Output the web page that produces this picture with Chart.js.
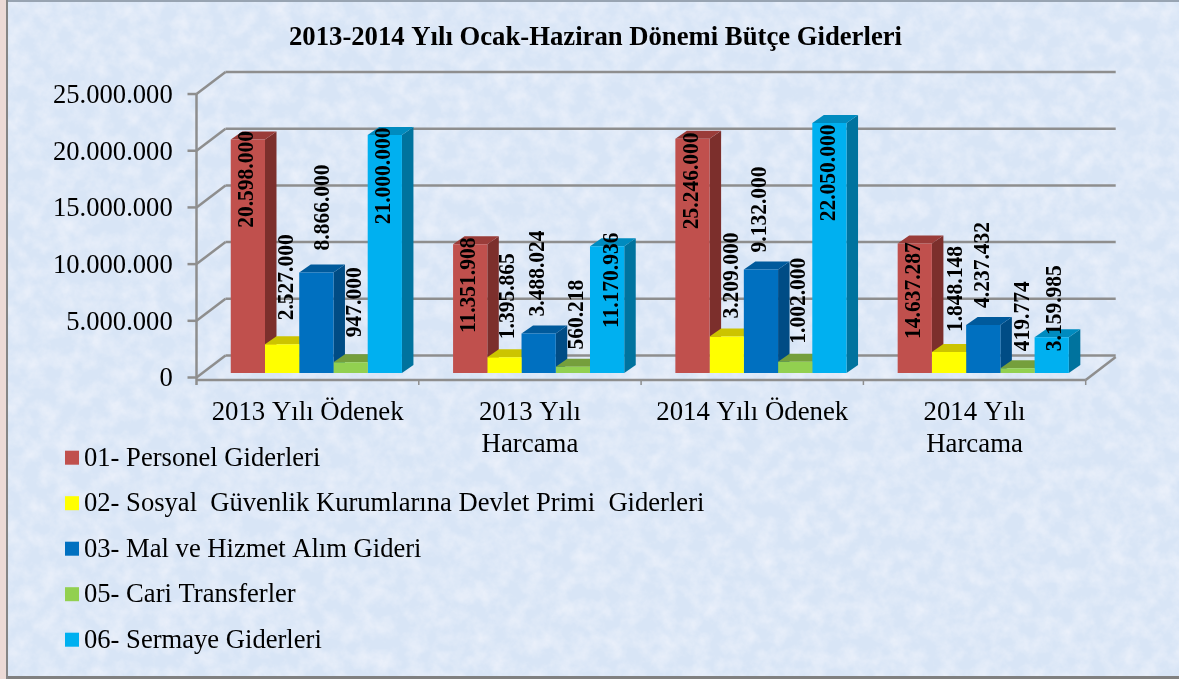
<!DOCTYPE html>
<html lang="tr">
<head>
<meta charset="utf-8">
<title>2013-2014 Yılı Ocak-Haziran Dönemi Bütçe Giderleri</title>
<style>
html,body{margin:0;padding:0;width:1179px;height:679px;overflow:hidden;background:#dce9f8;}
#bg{position:absolute;left:0;top:0;width:1179px;height:679px;box-sizing:border-box;
 border-top:2px solid #98a4b2;border-bottom:3px solid #808080;border-left:3px solid #808080;}
#tex{position:absolute;left:8px;top:2px;width:1171px;height:674px;background:#d8e5f6;
 background-image:url("data:image/svg+xml,%3Csvg xmlns='http://www.w3.org/2000/svg' width='1171' height='674'%3E%3Cfilter id='n' x='0' y='0' width='100%25' height='100%25'%3E%3CfeTurbulence type='fractalNoise' baseFrequency='0.06' numOctaves='5' seed='7'/%3E%3CfeColorMatrix values='0 0 0 0 0.92  0 0 0 0 0.93  0 0 0 0 0.98  1.1 0 0 0 -0.38'/%3E%3C/filter%3E%3Crect width='1171' height='674' filter='url(%23n)'/%3E%3C/svg%3E");}
#strip{position:absolute;left:0;top:0;width:6px;height:679px;background:#ecdad6;}
#line{position:absolute;left:6px;top:0;width:2px;height:679px;background:#858585;}
canvas{position:absolute;left:0;top:0;}
</style>
</head>
<body>
<div id="bg"></div><div id="tex"></div><div id="strip"></div><div id="line"></div>
<canvas id="c" width="1179" height="679"></canvas>
<script src="https://cdn.jsdelivr.net/npm/chart.js@4/dist/chart.umd.js"></script>
<script>
const categories = ['2013 Yılı Ödenek', ['2013 Yılı', 'Harcama'], '2014 Yılı Ödenek', ['2014 Yılı', 'Harcama']];
const titleText = '2013-2014 Yılı Ocak-Haziran Dönemi Bütçe Giderleri';

const seriesNames = [
  '01- Personel Giderleri',
  '02- Sosyal  Güvenlik Kurumlarına Devlet Primi  Giderleri',
  '03- Mal ve Hizmet Alım Gideri',
  '05- Cari Transferler',
  '06- Sermaye Giderleri'
];

// Bar heights (two red bars are drawn shorter than their printed labels)
const personel = [20598000, 11351908, 20650000, 11420000];
const sosyal   = [2527000, 1395865, 3209000, 1848148];
const mal      = [8866000, 3488024, 9132000, 4237432];
const cari     = [947000, 560218, 1002000, 419774];
const sermaye  = [21000000, 11170936, 22050000, 3159985];

// Printed data labels
const personelLabels = ['20.598.000', '11.351.908', '25.246.000', '14.637.287'];
const sosyalLabels   = ['2.527.000', '1.395.865', '3.209.000', '1.848.148'];
const malLabels      = ['8.866.000', '3.488.024', '9.132.000', '4.237.432'];
const cariLabels     = ['947.000', '560.218', '1.002.000', '419.774'];
const sermayeLabels  = ['21.000.000', '11.170.936', '22.050.000', '3.159.985'];

const seriesValues = [personel, sosyal, mal, cari, sermaye];
const seriesLabels = [personelLabels, sosyalLabels, malLabels, cariLabels, sermayeLabels];

// Styling: front, side, top face colours
const frontColors = ['#C0504D', '#FFFF00', '#0070C0', '#92D050', '#00B0F0'];
const sideColors  = ['#7C2F2C', '#B3AE00', '#004C85', '#64923A', '#00739E'];
const topColors   = ['#9A3C39', '#CCC400', '#005A9C', '#759F3C', '#008BBF'];

// Styling: label centre, relative to top-centre of its bar [dx, dy], per series then category
const labelNudge = [
  [[-1, 40], [-1, 41], [0, 42], [-1, 47]],
  [[5, -67], [4, -61], [5, -61], [7, -63]],
  [[7, -65], [-1, -60], [-1, -60], [0, -60]],
  [[4, -60], [4, -52], [4, -61], [6, -52]],
  [[-1, 41], [5, 34], [0, 50], [3, -29]]
];

const SERIF = '"Liberation Serif","Times New Roman",serif';
const GRID = '#8e8e8e';
const FRONT_DX = 8.7, FRONT_DY = 4.5;   // bar plane to front axis plane
const WALL_DX = 29, WALL_DY = 22;       // front axis plane to back wall
const BAR_DX = 11.5, BAR_DY = 8;        // bar depth

function poly(ctx, pts, fill) {
  ctx.beginPath();
  pts.forEach((p, i) => i ? ctx.lineTo(p[0], p[1]) : ctx.moveTo(p[0], p[1]));
  ctx.closePath();
  ctx.fillStyle = fill;
  ctx.fill();
}

const chart3d = {
  id: 'chart3d',
  afterLayout(chart) {
    // title is centred on the page area right of the left frame, not on the canvas
    chart.titleBlock.left = 12;
    chart.titleBlock.right = chart.width;
  },
  beforeDatasetsDraw(chart) {
    const ctx = chart.ctx, y = chart.scales.y, a = chart.chartArea;
    const fl = a.left - FRONT_DX, fr = a.right - FRONT_DX;
    ctx.save();
    ctx.strokeStyle = GRID;
    ctx.lineWidth = 2.5;
    const line = (x1, y1, x2, y2) => { ctx.beginPath(); ctx.moveTo(x1, y1); ctx.lineTo(x2, y2); ctx.stroke(); };
    y.ticks.forEach(t => {
      const py = y.getPixelForValue(t.value) + FRONT_DY;
      line(fl - 9, py, fl, py);
      line(fl, py, fl + WALL_DX, py - WALL_DY);
      line(fl + WALL_DX, py - WALL_DY, fr + WALL_DX + 1, py - WALL_DY);
    });
    const y0 = y.getPixelForValue(0) + FRONT_DY + 2.5;
    const yTop = y.getPixelForValue(y.max) + FRONT_DY;
    line(fl, yTop, fl, y0 + 5);
    line(fl, y0, fr, y0);
    line(fr, y0, fr + WALL_DX + 1, y0 - 23);
    const n = categories.length;
    for (let i = 1; i <= n; i++) {
      const tx = fl + (fr - fl) * i / n;
      ctx.lineWidth = 1.5;
      line(tx, y0, tx, y0 + 5);
    }
    seriesValues.forEach((_, s) => {
      chart.getDatasetMeta(s).data.forEach(b => {
        const l = b.x - b.width / 2, r = b.x + b.width / 2;
        poly(ctx, [[r, b.y], [r + BAR_DX, b.y - BAR_DY], [r + BAR_DX, b.base - BAR_DY], [r, b.base]], sideColors[s]);
        poly(ctx, [[l, b.y], [l + BAR_DX, b.y - BAR_DY], [r + BAR_DX, b.y - BAR_DY], [r, b.y]], topColors[s]);
      });
    });
    ctx.restore();
  },
  afterDatasetsDraw(chart) {
    const ctx = chart.ctx;
    ctx.save();
    ctx.fillStyle = '#000';
    ctx.font = 'bold 21.5px ' + SERIF;
    ctx.textAlign = 'center';
    ctx.textBaseline = 'middle';
    seriesLabels.forEach((labs, s) => {
      chart.getDatasetMeta(s).data.forEach((b, i) => {
        const n = labelNudge[s][i];
        ctx.save();
        ctx.translate(b.x + n[0], b.y + n[1]);
        ctx.rotate(-Math.PI / 2);
        ctx.scale(1, 1.08);
        ctx.fillText(labs[i], 0, 0);
        ctx.restore();
      });
    });
    ctx.restore();
  },
  afterDraw(chart) {
    const ctx = chart.ctx;
    ctx.save();
    ctx.font = '26.6px ' + SERIF;
    ctx.textAlign = 'left';
    ctx.textBaseline = 'middle';
    chart.data.datasets.forEach((d, i) => {
      const cy = 457.7 + i * 45.5;
      ctx.fillStyle = d.backgroundColor;
      ctx.fillRect(65, cy - 7, 14, 14);
      ctx.fillStyle = '#000';
      ctx.fillText(d.label, 84, cy + 1);
    });
    ctx.restore();
  }
};

new Chart(document.getElementById('c'), {
  type: 'bar',
  data: {
    labels: categories,
    datasets: seriesNames.map((name, i) => ({
      label: name,
      data: seriesValues[i],
      backgroundColor: frontColors[i],
      borderWidth: 0,
      categoryPercentage: 0.77,
      barPercentage: 1
    }))
  },
  plugins: [chart3d],
  options: {
    responsive: false,
    animation: false,
    layout: { padding: { left: 40, right: 84.6, top: 0, bottom: 0 } },
    plugins: {
      legend: { display: false },
      tooltip: { enabled: false },
      title: {
        display: true,
        text: titleText,
        color: '#000',
        font: { family: SERIF, size: 26.7, weight: 'bold', lineHeight: 1.2 },
        padding: { top: 22, bottom: 35.5 }
      }
    },
    scales: {
      x: {
        grid: { display: false, drawTicks: false },
        border: { display: false },
        afterFit(s) { s.height = 306; },
        ticks: {
          color: '#000',
          font: { family: SERIF, size: 26.8 },
          padding: 24,
          autoSkip: false,
          maxRotation: 0,
          minRotation: 0,
          labelOffset: -FRONT_DX
        }
      },
      y: {
        min: 0,
        max: 25000000,
        grid: { display: false, drawTicks: false },
        border: { display: false },
        afterFit(s) { s.width = 165.2; },
        ticks: {
          stepSize: 5000000,
          color: '#000',
          font: { family: SERIF, size: 26.6 },
          padding: 32.5,
          labelOffset: FRONT_DY + 2,
          callback: v => String(v).replace(/\B(?=(\d{3})+$)/g, '.')
        }
      }
    }
  }
});
</script>
</body>
</html>
